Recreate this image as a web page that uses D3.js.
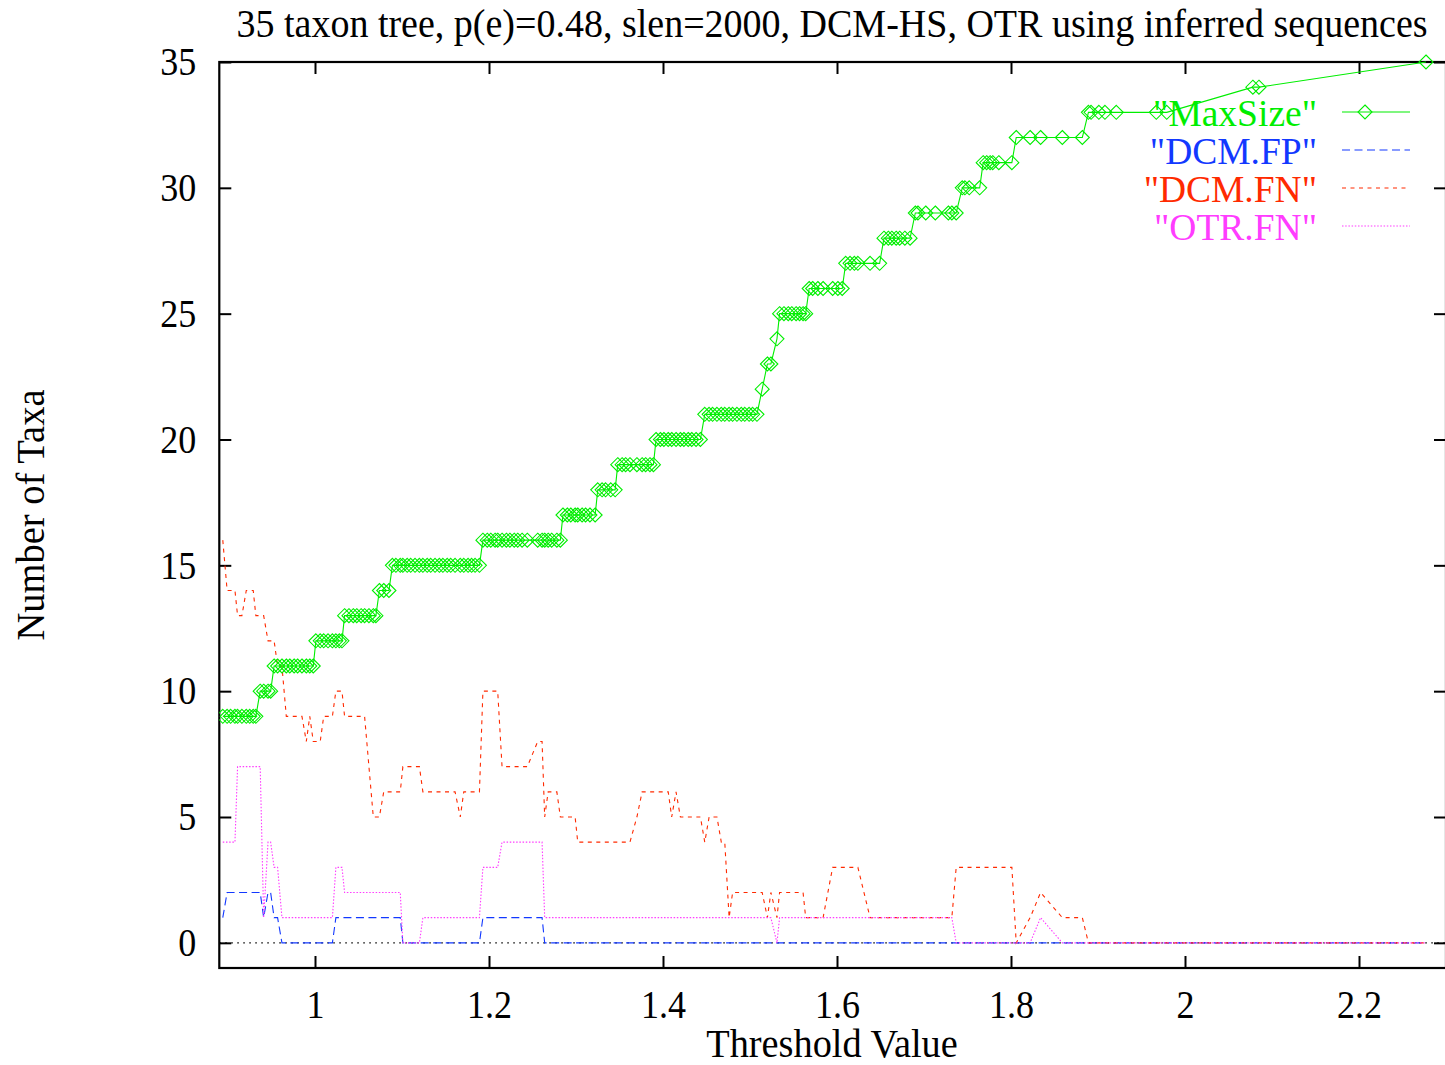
<!DOCTYPE html>
<html><head><meta charset="utf-8">
<script src="https://cdn.jsdelivr.net/npm/d3@7"></script>
<style>body{margin:0;background:#fff}svg{display:block}</style>
</head><body>
<svg id="c" width="1445" height="1065"></svg>
<script>
const thresholds = [
 0.894,0.899,0.903,0.908,0.911,0.916,0.921,0.925,0.929,0.932,
 0.937,0.941,0.946,0.949,0.953,0.957,0.962,0.967,0.971,0.976,
 0.980,0.985,0.990,0.994,0.998,1.001,1.006,1.010,1.015,1.020,
 1.024,1.028,1.031,1.034,1.039,1.044,1.048,1.053,1.057,1.062,
 1.067,1.070,1.074,1.079,1.085,1.089,1.093,1.098,1.101,1.106,
 1.110,1.115,1.120,1.124,1.129,1.133,1.138,1.143,1.147,1.152,
 1.156,1.161,1.167,1.171,1.176,1.180,1.184,1.189,1.193,1.198,
 1.202,1.207,1.210,1.215,1.220,1.224,1.229,1.233,1.238,1.244,
 1.256,1.261,1.264,1.268,1.272,1.278,1.282,1.285,1.290,1.294,
 1.299,1.302,1.307,1.311,1.316,1.322,1.325,1.330,1.334,1.340,
 1.345,1.348,1.353,1.357,1.362,1.370,1.376,1.380,1.385,1.389,
 1.392,1.397,1.401,1.406,1.410,1.415,1.420,1.424,1.429,1.433,
 1.438,1.443,1.448,1.453,1.457,1.462,1.467,1.471,1.476,1.480,
 1.485,1.490,1.494,1.499,1.503,1.508,1.514,1.520,1.524,1.531,
 1.534,1.539,1.544,1.548,1.553,1.557,1.561,1.564,1.568,1.572,
 1.578,1.584,1.595,1.601,1.606,1.610,1.615,1.620,1.624,1.638,
 1.649,1.654,1.659,1.663,1.668,1.672,1.678,1.684,1.690,1.693,
 1.702,1.713,1.728,1.732,1.737,1.744,1.747,1.752,1.764,1.768,
 1.772,1.776,1.779,1.786,1.801,1.806,1.822,1.834,1.859,1.882,
 1.889,1.892,1.901,1.908,1.921,1.967,1.979,2.078,2.085,2.277
];
const maxSize = [
 9,9,9,9,9,9,9,9,9,9,
 10,10,10,10,11,11,11,11,11,11,
 11,11,11,11,11,12,12,12,12,12,
 12,12,12,13,13,13,13,13,13,13,
 13,13,14,14,14,15,15,15,15,15,
 15,15,15,15,15,15,15,15,15,15,
 15,15,15,15,15,15,15,15,16,16,
 16,16,16,16,16,16,16,16,16,16,
 16,16,16,16,16,16,16,17,17,17,
 17,17,17,17,17,17,18,18,18,18,
 18,19,19,19,19,19,19,19,19,19,
 20,20,20,20,20,20,20,20,20,20,
 20,20,21,21,21,21,21,21,21,21,
 21,21,21,21,21,21,22,23,23,24,
 25,25,25,25,25,25,25,25,26,26,
 26,26,26,26,26,27,27,27,27,27,
 27,28,28,28,28,28,28,28,29,29,
 29,29,29,29,29,30,30,30,30,31,
 31,31,31,31,31,32,32,32,32,32,
 33,33,33,33,33,33,33,34,34,35
];
const dcmFP = [
 1,2,2,2,2,2,2,2,2,2,
 2,1,2,2,1,1,0,0,0,0,
 0,0,0,0,0,0,0,0,0,0,
 1,1,1,1,1,1,1,1,1,1,
 1,1,1,1,1,1,1,1,0,0,
 0,0,0,0,0,0,0,0,0,0,
 0,0,0,0,0,0,0,0,1,1,
 1,1,1,1,1,1,1,1,1,1,
 1,1,0,0,0,0,0,0,0,0,
 0,0,0,0,0,0,0,0,0,0,
 0,0,0,0,0,0,0,0,0,0,
 0,0,0,0,0,0,0,0,0,0,
 0,0,0,0,0,0,0,0,0,0,
 0,0,0,0,0,0,0,0,0,0,
 0,0,0,0,0,0,0,0,0,0,
 0,0,0,0,0,0,0,0,0,0,
 0,0,0,0,0,0,0,0,0,0,
 0,0,0,0,0,0,0,0,0,0,
 0,0,0,0,0,0,0,0,0,0,
 0,0,0,0,0,0,0,0,0,0
];
const dcmFN = [
 16,14,14,14,13,13,14,14,14,13,
 13,13,12,12,12,11,11,9,9,9,
 9,9,8,9,8,8,8,9,9,9,
 10,10,10,9,9,9,9,9,9,7,
 5,5,5,6,6,6,6,6,7,7,
 7,7,7,6,6,6,6,6,6,6,
 6,6,5,6,6,6,6,6,10,10,
 10,10,10,7,7,7,7,7,7,7,
 8,8,5,6,6,6,5,5,5,5,
 5,4,4,4,4,4,4,4,4,4,
 4,4,4,4,4,5,6,6,6,6,
 6,6,6,6,5,6,5,5,5,5,
 5,5,4,5,5,5,4,4,1,2,
 2,2,2,2,2,2,2,1,2,1,
 2,2,2,2,2,2,2,1,1,1,
 1,1,3,3,3,3,3,3,3,1,
 1,1,1,1,1,1,1,1,1,1,
 1,1,1,1,3,3,3,3,3,3,
 3,3,3,3,3,0,1,2,1,1,
 0,0,0,0,0,0,0,0,0,0
];
const otrFN = [
 4,4,4,4,7,7,7,7,7,7,
 7,1,4,4,3,3,1,1,1,1,
 1,1,1,1,1,1,1,1,1,1,
 3,3,3,2,2,2,2,2,2,2,
 2,2,2,2,2,2,2,2,0,0,
 0,0,0,1,1,1,1,1,1,1,
 1,1,1,1,1,1,1,1,3,3,
 3,3,3,4,4,4,4,4,4,4,
 4,4,1,1,1,1,1,1,1,1,
 1,1,1,1,1,1,1,1,1,1,
 1,1,1,1,1,1,1,1,1,1,
 1,1,1,1,1,1,1,1,1,1,
 1,1,1,1,1,1,1,1,1,1,
 1,1,1,1,1,1,1,1,1,0,
 1,1,1,1,1,1,1,1,1,1,
 1,1,1,1,1,1,1,1,1,1,
 1,1,1,1,1,1,1,1,1,1,
 1,1,1,1,0,0,0,0,0,0,
 0,0,0,0,0,0,0,1,0,0,
 0,0,0,0,0,0,0,0,0,0
];
const xTicks = [1, 1.2, 1.4, 1.6, 1.8, 2, 2.2];
const xTickLabels = ["1", "1.2", "1.4", "1.6", "1.8", "2", "2.2"];
const yTicks = [0, 5, 10, 15, 20, 25, 30, 35];
const seriesNames = ['"MaxSize"', '"DCM.FP"', '"DCM.FN"', '"OTR.FN"'];
const titleText = "35 taxon tree, p(e)=0.48, slen=2000, DCM-HS, OTR using inferred sequences";
const xTitle = "Threshold Value";
const yTitle = "Number of Taxa";

const FONT = "'Liberation Serif','Times New Roman',serif";
const svg = d3.select("#c");
const L = 219.3, R = 1446, T = 62, B = 968;
const x = d3.scaleLinear().domain([0.89, 2.3]).range([L, R]);
const y = d3.scaleLinear().domain([-1, 35]).range([B, T]);

// narrow, tall glyphs as in the reference
function tallText(sel, widthSize, heightSize) {
  sel.each(function () {
    const t = d3.select(this);
    t.attr("font-size", widthSize);
    const w = this.getComputedTextLength();
    t.attr("font-size", heightSize).attr("textLength", w).attr("lengthAdjust", "spacingAndGlyphs");
  });
}

const styles = [
  {color: "#00ee00", dash: null},
  {color: "#1238ff", dash: "8,4.5"},
  {color: "#ff2a00", dash: "4,4.5"},
  {color: "#ff3cff", dash: "1.5,1.7"}
];
const series = [maxSize, dcmFP, dcmFN, otrFN];

// zero axis
svg.append("line").attr("x1", L).attr("x2", R).attr("y1", y(0)).attr("y2", y(0))
  .attr("stroke", "#000").attr("stroke-width", 1.2).attr("stroke-dasharray", "1.5,4.5");

// axes (ticks inward)
const gB = svg.append("g").attr("transform", `translate(0,${B})`)
  .call(d3.axisBottom(x).tickValues(xTicks).tickFormat((d, i) => xTickLabels[i]).tickSizeInner(-12).tickSizeOuter(0).tickPadding(50));
const gT = svg.append("g").attr("transform", `translate(0,${T})`)
  .call(d3.axisTop(x).tickValues(xTicks).tickFormat("").tickSizeInner(-12).tickSizeOuter(0));
const gL = svg.append("g").attr("transform", `translate(${L},0)`)
  .call(d3.axisLeft(y).tickValues(yTicks).tickSizeInner(-12).tickSizeOuter(0).tickPadding(23));
const gR = svg.append("g").attr("transform", `translate(${R},0)`)
  .call(d3.axisRight(y).tickValues(yTicks).tickFormat("").tickSizeInner(-12).tickSizeOuter(0));
[gB, gT, gL, gR].forEach(g => {
  g.select(".domain").remove();
  g.selectAll(".tick line").attr("stroke", "#000").attr("stroke-width", 2);
  g.selectAll("text").attr("font-family", FONT).attr("fill", "#000");
});
gB.selectAll("text").attr("dy", "0");
gL.selectAll("text").attr("dy", "0.32em");
tallText(gB.selectAll("text"), 36, 40);
tallText(gL.selectAll("text"), 36, 40);

// frame
svg.append("rect").attr("x", L).attr("y", T).attr("width", R - L).attr("height", B - T)
  .attr("fill", "none").attr("stroke", "#000").attr("stroke-width", 2.2);

svg.append("clipPath").attr("id", "pc").append("rect")
  .attr("x", L).attr("y", T - 10).attr("width", R - L).attr("height", B - T + 10);
const plot = svg.append("g").attr("clip-path", "url(#pc)");

const line = d3.line().x(d => x(d[0])).y(d => y(d[1]));
[1, 2, 3, 0].forEach(si => {
  const pts = thresholds.map((t, i) => [t, series[si][i]]);
  plot.append("path").datum(pts).attr("d", line).attr("fill", "none")
    .attr("stroke", styles[si].color).attr("stroke-width", 1.1)
    .attr("stroke-dasharray", styles[si].dash);
});
const diamond = "M0,-7L7,0L0,7L-7,0Z";
plot.selectAll("path.mk").data(thresholds.map((t, i) => [t, maxSize[i]])).enter()
  .append("path").attr("class", "mk").attr("d", diamond)
  .attr("transform", d => `translate(${x(d[0])},${y(d[1])})`)
  .attr("fill", "none").attr("stroke", styles[0].color).attr("stroke-width", 1.1);

// legend
const legY = [112, 150, 188, 226];
seriesNames.forEach((name, i) => {
  const t = svg.append("text").attr("x", 1317).attr("y", legY[i]).attr("dy", "0.36em")
    .attr("text-anchor", "end").attr("font-family", FONT)
    .attr("fill", styles[i].color).text(name);
  tallText(t, 37.5, 37.5);
  svg.append("line").attr("x1", 1342).attr("x2", 1410).attr("y1", legY[i]).attr("y2", legY[i])
    .attr("stroke", styles[i].color).attr("stroke-width", 1.1).attr("stroke-dasharray", styles[i].dash);
});
svg.append("path").attr("d", diamond).attr("transform", `translate(1365,${legY[0]})`)
  .attr("fill", "none").attr("stroke", styles[0].color).attr("stroke-width", 1.1);

// titles
tallText(svg.append("text").attr("x", 832).attr("y", 37).attr("text-anchor", "middle")
  .attr("font-family", FONT).text(titleText), 38, 39);
tallText(svg.append("text").attr("x", 832).attr("y", 1057).attr("text-anchor", "middle")
  .attr("font-family", FONT).text(xTitle), 38.3, 39);
tallText(svg.append("text").attr("transform", "translate(44,515) rotate(-90)").attr("text-anchor", "middle")
  .attr("font-family", FONT).text(yTitle), 38.5, 40);
</script>
</body></html>
